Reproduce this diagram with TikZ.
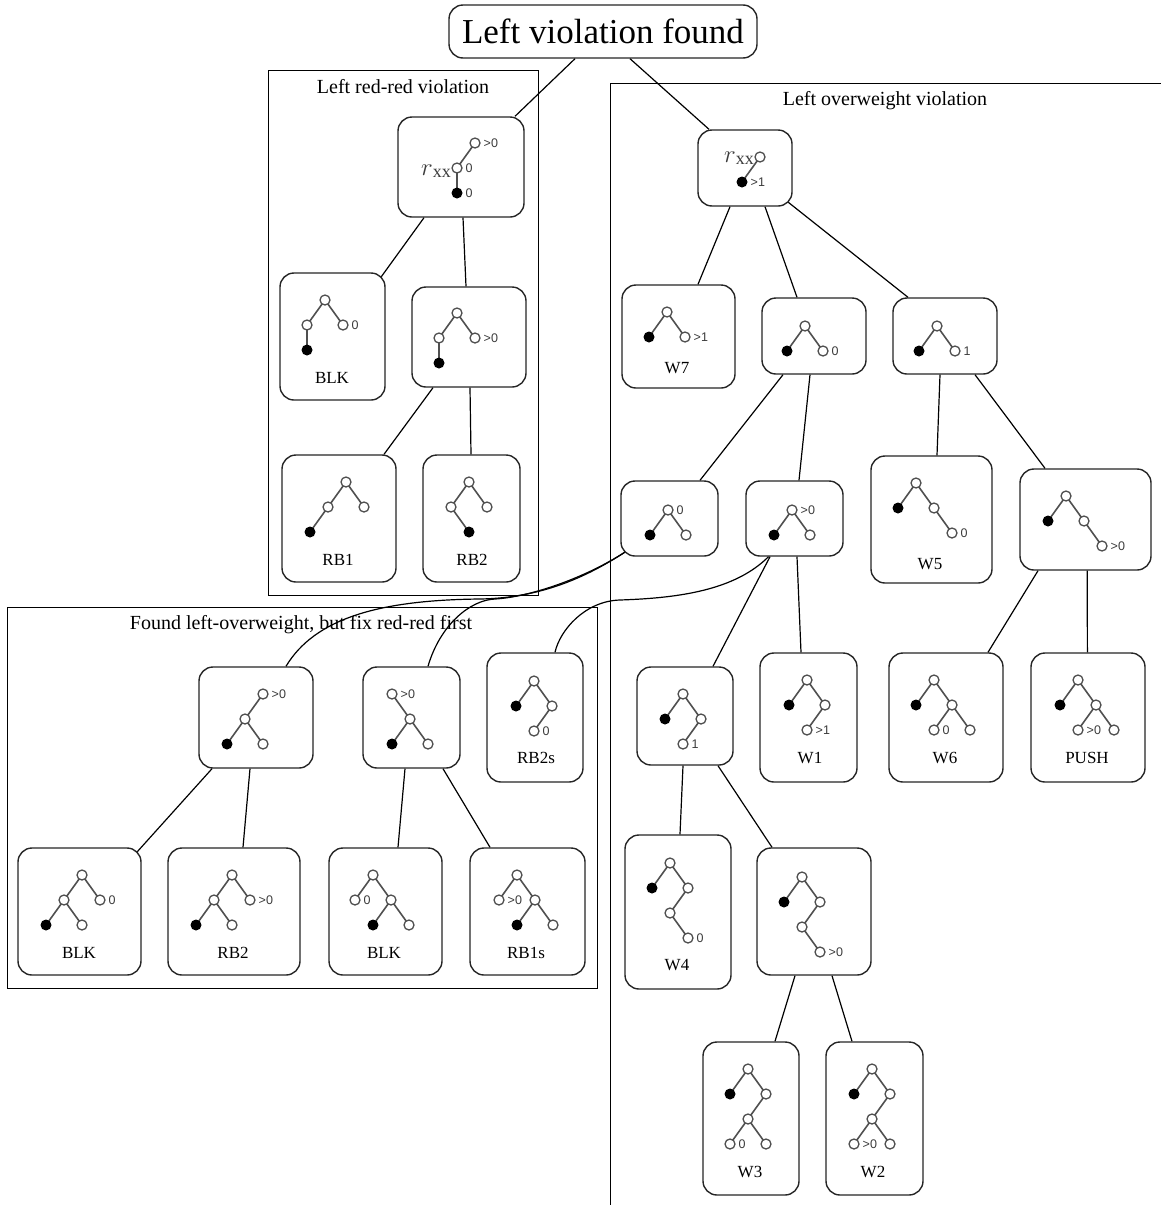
\documentclass[tikz,border=0pt]{standalone}
\usepackage{fontspec}
\setmainfont{Liberation Serif}
\newfontfamily\labsans{Liberation Sans}
\definecolor{tgray}{HTML}{505050}
\definecolor{tlab}{HTML}{3C3C3C}
\newcounter{mlc}
\newcommand\mlfont{\labsans\fontsize{12.5}{12.5}\selectfont}
\newcommand\nlfont{\fontsize{17}{17}\selectfont}
\newcommand\clfont{\fontsize{20}{20}\selectfont}
\newcommand\rootfont{\fontsize{35}{35}\selectfont}
\newcommand\rxxtext{{\fontsize{24}{24}\selectfont$r$}\raisebox{-2pt}{\fontsize{18}{18}\selectfont xx}}
\newcommand\mkW[1]{\draw[wn] (#1) circle[radius=5pt];}
\newcommand\mkB[1]{\fill[bn] (#1) circle[radius=5.5pt];}
\newcommand\mkE[2]{\draw[tl] (#1) -- (#2);}
\newcommand\mkL[2]{\stepcounter{mlc}\node[ml, name=ml\arabic{mlc}] at ([xshift=8.5pt]#1) {#2};}
\tikzset{
  box/.style={draw=black!85, line width=1.4pt, rounded corners=14pt, inner sep=0pt, fill=white},
  cluster/.style={draw=black, line width=1pt},
  edge/.style={draw=black, line width=1.2pt},
  tl/.style={draw=tgray, line width=1.6pt},
  wn/.style={draw=tgray, fill=white, line width=1.3pt},
  bn/.style={fill=black},
  ml/.style={font=\mlfont, text=tlab, inner sep=0pt, anchor=west},
  lbl/.style={font=\nlfont, inner sep=0pt},
  cl/.style={font=\clfont, inner sep=0pt, anchor=base},
  rx/.style={text=tlab, inner sep=0pt, anchor=base east},
  tree/.style={x=18pt, y=-25pt},
}
\begin{document}
\begin{tikzpicture}[x=1pt, y=-1pt]
\useasboundingbox (0,0) rectangle (1161,1205);
\clip (0,0) rectangle (1161,1205);
\fill[white] (0,0) rectangle (1161,1205);

% clusters
\draw[cluster] (268,70) rectangle (538,595);
\node[cl] (c1t) at (403,93) {Left red-red violation};
\draw[cluster] (610,83) rectangle (1200,1240);
\node[cl] (c2t) at (885,105) {Left overweight violation};
\draw[cluster] (7,607) rectangle (597,988);
\node[cl] (c3t) at (301,629) {Found left-overweight, but fix red-red first};

% nodes
\node[box, minimum width=308pt, minimum height=53pt, font=\rootfont] (root) at (603,31.5) {Left violation found};
\node[box, minimum width=126pt, minimum height=100pt] (l1) at (461,167) {};
\node[box, minimum width=105pt, minimum height=127pt] (l2) at (332.5,336.5) {};
\node[box, minimum width=114pt, minimum height=100pt] (l3) at (469,337) {};
\node[box, minimum width=114pt, minimum height=127pt] (l4) at (339,518.5) {};
\node[box, minimum width=97pt, minimum height=127pt] (l5) at (471.5,518.5) {};
\node[box, minimum width=94pt, minimum height=76pt] (r1) at (745,168) {};
\node[box, minimum width=113pt, minimum height=103pt] (r2) at (678.5,336.5) {};
\node[box, minimum width=104pt, minimum height=76pt] (r3) at (814,336) {};
\node[box, minimum width=104pt, minimum height=76pt] (r4) at (945,336) {};
\node[box, minimum width=97pt, minimum height=75pt] (r5) at (669.5,518.5) {};
\node[box, minimum width=97pt, minimum height=75pt] (r6) at (794.5,518.5) {};
\node[box, minimum width=121pt, minimum height=127pt] (r7) at (931.5,519.5) {};
\node[box, minimum width=131pt, minimum height=101pt] (r8) at (1085.5,519.5) {};
\node[box, minimum width=96pt, minimum height=98pt] (r9) at (685,716) {};
\node[box, minimum width=97pt, minimum height=129pt] (r10) at (808.5,717.5) {};
\node[box, minimum width=114pt, minimum height=129pt] (r11) at (946,717.5) {};
\node[box, minimum width=114pt, minimum height=129pt] (r12) at (1088,717.5) {};
\node[box, minimum width=106pt, minimum height=154pt] (r13) at (678,912) {};
\node[box, minimum width=114pt, minimum height=127pt] (r14) at (814,911.5) {};
\node[box, minimum width=96pt, minimum height=153pt] (r15) at (751,1118.5) {};
\node[box, minimum width=97pt, minimum height=153pt] (r16) at (874.5,1118.5) {};
\node[box, minimum width=114pt, minimum height=101pt] (b1) at (256,717.5) {};
\node[box, minimum width=97pt, minimum height=101pt] (b2) at (411.5,717.5) {};
\node[box, minimum width=96pt, minimum height=129pt] (b3) at (535,717.5) {};
\node[box, minimum width=123pt, minimum height=127pt] (b4) at (79.5,911.5) {};
\node[box, minimum width=132pt, minimum height=127pt] (b5) at (234,911.5) {};
\node[box, minimum width=113pt, minimum height=127pt] (b6) at (385.5,911.5) {};
\node[box, minimum width=115pt, minimum height=127pt] (b7) at (527.5,911.5) {};

% edges
\draw[edge] ([xshift=-28pt]root.south) -- ([xshift=54pt]l1.north);
\draw[edge] ([xshift=27pt]root.south) -- ([xshift=-36pt]r1.north);
\draw[edge] ([xshift=-37pt]l1.south) -- ([xshift=-4.4pt,yshift=-4.4pt]l2.north east);
\draw[edge] ([xshift=2pt]l1.south) -- ([xshift=-3pt]l3.north);
\draw[edge] ([xshift=-36pt]l3.south) -- ([xshift=45pt]l4.north);
\draw[edge] ([xshift=1pt]l3.south) -- ([xshift=-0.5pt]l5.north);
\draw[edge] ([xshift=-15pt]r1.south) -- ([xshift=19.5pt]r2.north);
\draw[edge] ([xshift=20pt]r1.south) -- ([xshift=-17pt]r3.north);
\draw[edge] ([xshift=-4.4pt,yshift=4.4pt]r1.south east) -- ([xshift=-37pt]r4.north);
\draw[edge] ([xshift=-31pt]r3.south) -- ([xshift=30.5pt]r5.north);
\draw[edge] ([xshift=-4pt]r3.south) -- ([xshift=4.5pt]r6.north);
\draw[edge] ([xshift=-5pt]r4.south) -- ([xshift=5.5pt]r7.north);
\draw[edge] ([xshift=30pt]r4.south) -- ([xshift=-40.5pt]r8.north);
\draw[edge] ([xshift=-24.5pt]r6.south) -- ([xshift=28pt]r9.north);
\draw[edge] ([xshift=2.5pt]r6.south) -- ([xshift=-7.5pt]r10.north);
\draw[edge] ([xshift=-47.5pt]r8.south) -- ([xshift=42pt]r11.north);
\draw[edge] ([xshift=1.7pt]r8.south) -- ([xshift=-0.6pt]r12.north);
\draw[edge] ([xshift=-2pt]r9.south) -- ([xshift=2pt]r13.north);
\draw[edge] ([xshift=33pt]r9.south) -- ([xshift=-42pt]r14.north);
\draw[edge] ([xshift=-19pt]r14.south) -- ([xshift=24pt]r15.north);
\draw[edge] ([xshift=18pt]r14.south) -- ([xshift=-22.5pt]r16.north);
\draw[edge] ([xshift=-44pt]b1.south) -- ([xshift=-4.4pt,yshift=-4.4pt]b4.north east);
\draw[edge] ([xshift=-6pt]b1.south) -- ([xshift=9pt]b5.north);
\draw[edge] ([xshift=-6.5pt]b2.south) -- ([xshift=12.5pt]b6.north);
\draw[edge] ([xshift=31.5pt]b2.south) -- ([xshift=-37.5pt]b7.north);
\draw[edge] ([xshift=4.4pt,yshift=4.4pt]r5.south west) .. controls (585,578) and (540,598) .. (480,599) .. controls (380,600) and (315,618) .. ([xshift=30pt]b1.north);
\draw[edge] ([xshift=4.4pt,yshift=4.4pt]r5.south west) .. controls (585,578) and (530,597) .. (495,599) .. controls (470,600) and (440,625) .. ([xshift=16.5pt]b2.north);
\draw[edge] ([xshift=-26pt]r6.south) .. controls (735,590) and (680,598) .. (620,600) .. controls (585,601) and (560,630) .. ([xshift=20pt]b3.north);

% node texts
\node[lbl] (l2t) at (332,378) {BLK};
\node[lbl] (l4t) at (338,560) {RB1};
\node[lbl] (l5t) at (472,560) {RB2};
\node[lbl] (r2t) at (677,368) {W7};
\node[lbl] (r7t) at (930,564) {W5};
\node[lbl] (r10t) at (810,758) {W1};
\node[lbl] (r11t) at (945,758) {W6};
\node[lbl] (r12t) at (1087,758) {PUSH};
\node[lbl] (r13t) at (677,965) {W4};
\node[lbl] (r15t) at (750,1172) {W3};
\node[lbl] (r16t) at (873,1172) {W2};
\node[lbl] (b3t) at (536,758) {RB2s};
\node[lbl] (b4t) at (79,953) {BLK};
\node[lbl] (b5t) at (233,953) {RB2};
\node[lbl] (b6t) at (384,953) {BLK};
\node[lbl] (b7t) at (526,953) {RB1s};

% r_xx labels
\node[rx] (rxl) at (451,175) {\rxxtext};
\node[rx] (rxr) at (754,162) {\rxxtext};

% mini trees
\begin{scope}[shift={(457,168)}, tree]
\mkE{0,0}{1,-1}\mkE{0,0}{0,1}
\mkW{0,0}\mkW{1,-1}\mkB{0,1}
\mkL{1,-1}{>0}\mkL{0,0}{0}\mkL{0,1}{0}
\end{scope}
\begin{scope}[shift={(325,300)}, tree]
\mkE{0,0}{-1,1}\mkE{0,0}{1,1}\mkE{-1,1}{-1,2}
\mkW{0,0}\mkW{-1,1}\mkW{1,1}\mkB{-1,2}\mkL{1,1}{0}
\end{scope}
\begin{scope}[shift={(457,313)}, tree]
\mkE{0,0}{-1,1}\mkE{0,0}{1,1}\mkE{-1,1}{-1,2}
\mkW{0,0}\mkW{-1,1}\mkW{1,1}\mkB{-1,2}\mkL{1,1}{>0}
\end{scope}
\begin{scope}[shift={(346,482)}, tree]
\mkE{0,0}{-1,1}\mkE{0,0}{1,1}\mkE{-1,1}{-2,2}
\mkW{0,0}\mkW{-1,1}\mkW{1,1}\mkB{-2,2}
\end{scope}
\begin{scope}[shift={(469,482)}, tree]
\mkE{0,0}{-1,1}\mkE{0,0}{1,1}\mkE{-1,1}{0,2}
\mkW{0,0}\mkW{-1,1}\mkW{1,1}\mkB{0,2}
\end{scope}
% right cluster
\begin{scope}[shift={(760,157)}, tree]
\mkE{0,0}{-1,1}\mkW{0,0}\mkB{-1,1}\mkL{-1,1}{>1}
\end{scope}
\begin{scope}[shift={(667,312)}, tree]
\mkE{0,0}{-1,1}\mkE{0,0}{1,1}\mkW{0,0}\mkB{-1,1}\mkW{1,1}\mkL{1,1}{>1}
\end{scope}
\begin{scope}[shift={(805,326)}, tree]
\mkE{0,0}{-1,1}\mkE{0,0}{1,1}\mkW{0,0}\mkB{-1,1}\mkW{1,1}\mkL{1,1}{0}
\end{scope}
\begin{scope}[shift={(937,326)}, tree]
\mkE{0,0}{-1,1}\mkE{0,0}{1,1}\mkW{0,0}\mkB{-1,1}\mkW{1,1}\mkL{1,1}{1}
\end{scope}
\begin{scope}[shift={(668,510)}, tree]
\mkE{0,0}{-1,1}\mkE{0,0}{1,1}\mkW{0,0}\mkB{-1,1}\mkW{1,1}\mkL{0,0}{0}
\end{scope}
\begin{scope}[shift={(792,510)}, tree]
\mkE{0,0}{-1,1}\mkE{0,0}{1,1}\mkW{0,0}\mkB{-1,1}\mkW{1,1}\mkL{0,0}{>0}
\end{scope}
\begin{scope}[shift={(916,483)}, tree]
\mkE{0,0}{-1,1}\mkE{0,0}{1,1}\mkE{1,1}{2,2}
\mkW{0,0}\mkB{-1,1}\mkW{1,1}\mkW{2,2}\mkL{2,2}{0}
\end{scope}
\begin{scope}[shift={(1066,496)}, tree]
\mkE{0,0}{-1,1}\mkE{0,0}{1,1}\mkE{1,1}{2,2}
\mkW{0,0}\mkB{-1,1}\mkW{1,1}\mkW{2,2}\mkL{2,2}{>0}
\end{scope}
\begin{scope}[shift={(683,694)}, tree]
\mkE{0,0}{-1,1}\mkE{0,0}{1,1}\mkE{1,1}{0,2}
\mkW{0,0}\mkB{-1,1}\mkW{1,1}\mkW{0,2}\mkL{0,2}{1}
\end{scope}
\begin{scope}[shift={(807,680)}, tree]
\mkE{0,0}{-1,1}\mkE{0,0}{1,1}\mkE{1,1}{0,2}
\mkW{0,0}\mkB{-1,1}\mkW{1,1}\mkW{0,2}\mkL{0,2}{>1}
\end{scope}
\begin{scope}[shift={(934,680)}, tree]
\mkE{0,0}{-1,1}\mkE{0,0}{1,1}\mkE{1,1}{0,2}\mkE{1,1}{2,2}
\mkW{0,0}\mkB{-1,1}\mkW{1,1}\mkW{0,2}\mkW{2,2}\mkL{0,2}{0}
\end{scope}
\begin{scope}[shift={(1078,680)}, tree]
\mkE{0,0}{-1,1}\mkE{0,0}{1,1}\mkE{1,1}{0,2}\mkE{1,1}{2,2}
\mkW{0,0}\mkB{-1,1}\mkW{1,1}\mkW{0,2}\mkW{2,2}\mkL{0,2}{>0}
\end{scope}
\begin{scope}[shift={(670,863)}, tree]
\mkE{0,0}{-1,1}\mkE{0,0}{1,1}\mkE{1,1}{0,2}\mkE{0,2}{1,3}
\mkW{0,0}\mkB{-1,1}\mkW{1,1}\mkW{0,2}\mkW{1,3}\mkL{1,3}{0}
\end{scope}
\begin{scope}[shift={(802,877)}, tree]
\mkE{0,0}{-1,1}\mkE{0,0}{1,1}\mkE{1,1}{0,2}\mkE{0,2}{1,3}
\mkW{0,0}\mkB{-1,1}\mkW{1,1}\mkW{0,2}\mkW{1,3}\mkL{1,3}{>0}
\end{scope}
\begin{scope}[shift={(748,1069)}, tree]
\mkE{0,0}{-1,1}\mkE{0,0}{1,1}\mkE{1,1}{0,2}\mkE{0,2}{-1,3}\mkE{0,2}{1,3}
\mkW{0,0}\mkB{-1,1}\mkW{1,1}\mkW{0,2}\mkW{-1,3}\mkW{1,3}\mkL{-1,3}{0}
\end{scope}
\begin{scope}[shift={(872,1069)}, tree]
\mkE{0,0}{-1,1}\mkE{0,0}{1,1}\mkE{1,1}{0,2}\mkE{0,2}{-1,3}\mkE{0,2}{1,3}
\mkW{0,0}\mkB{-1,1}\mkW{1,1}\mkW{0,2}\mkW{-1,3}\mkW{1,3}\mkL{-1,3}{>0}
\end{scope}
% bottom-left cluster
\begin{scope}[shift={(263,694)}, tree]
\mkE{0,0}{-1,1}\mkE{-1,1}{-2,2}\mkE{-1,1}{0,2}
\mkW{0,0}\mkW{-1,1}\mkB{-2,2}\mkW{0,2}\mkL{0,0}{>0}
\end{scope}
\begin{scope}[shift={(392,694)}, tree]
\mkE{0,0}{1,1}\mkE{1,1}{0,2}\mkE{1,1}{2,2}
\mkW{0,0}\mkW{1,1}\mkB{0,2}\mkW{2,2}\mkL{0,0}{>0}
\end{scope}
\begin{scope}[shift={(534,681)}, tree]
\mkE{0,0}{-1,1}\mkE{0,0}{1,1}\mkE{1,1}{0,2}
\mkW{0,0}\mkB{-1,1}\mkW{1,1}\mkW{0,2}\mkL{0,2}{0}
\end{scope}
\begin{scope}[shift={(82,875)}, tree]
\mkE{0,0}{-1,1}\mkE{0,0}{1,1}\mkE{-1,1}{-2,2}\mkE{-1,1}{0,2}
\mkW{0,0}\mkW{-1,1}\mkW{1,1}\mkB{-2,2}\mkW{0,2}\mkL{1,1}{0}
\end{scope}
\begin{scope}[shift={(232,875)}, tree]
\mkE{0,0}{-1,1}\mkE{0,0}{1,1}\mkE{-1,1}{-2,2}\mkE{-1,1}{0,2}
\mkW{0,0}\mkW{-1,1}\mkW{1,1}\mkB{-2,2}\mkW{0,2}\mkL{1,1}{>0}
\end{scope}
\begin{scope}[shift={(373,875)}, tree]
\mkE{0,0}{-1,1}\mkE{0,0}{1,1}\mkE{1,1}{0,2}\mkE{1,1}{2,2}
\mkW{0,0}\mkW{-1,1}\mkW{1,1}\mkB{0,2}\mkW{2,2}\mkL{-1,1}{0}
\end{scope}
\begin{scope}[shift={(517,875)}, tree]
\mkE{0,0}{-1,1}\mkE{0,0}{1,1}\mkE{1,1}{0,2}\mkE{1,1}{2,2}
\mkW{0,0}\mkW{-1,1}\mkW{1,1}\mkB{0,2}\mkW{2,2}\mkL{-1,1}{>0}
\end{scope}
\end{tikzpicture}
\end{document}
